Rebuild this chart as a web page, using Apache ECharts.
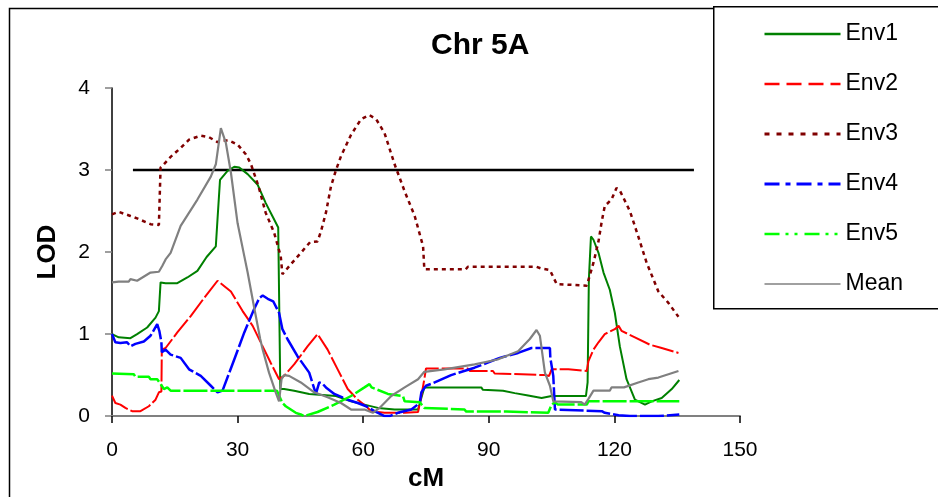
<!DOCTYPE html>
<html>
<head>
<meta charset="utf-8">
<script src="https://cdn.jsdelivr.net/npm/echarts@6/dist/echarts.min.js"></script>
<style>
html,body{margin:0;padding:0;background:#fff;}
#chart{width:938px;height:497px;}
</style>
</head>
<body>
<div id="chart"></div>
<script>
var chartTitle = 'Chr 5A';
var xName = 'cM';
var yName = 'LOD';
var seriesNames = ['Env1', 'Env2', 'Env3', 'Env4', 'Env5', 'Mean'];
var xTicks = [0, 30, 60, 90, 120, 150];
var yTicks = [0, 1, 2, 3, 4];
var thresholdLine = [[5, 3], [139, 3]];

var env1 = [[0,1.00],[1.6,0.96],[4.4,0.95],[6,1.0],[8.4,1.08],[10.4,1.20],[11.2,1.28],[11.6,1.63],[12.8,1.62],[15.6,1.62],[18,1.69],[20.4,1.77],[22.6,1.94],[24.8,2.07],[25.2,2.40],[25.8,2.88],[27.6,2.99],[29.2,3.04],[30.4,3.03],[32.4,2.95],[34.8,2.82],[36.7,2.60],[38.3,2.44],[39.7,2.30],[40.2,0.33],[41.1,0.33],[43.5,0.31],[47.1,0.27],[53.5,0.245],[57.1,0.18],[60.3,0.14],[63.5,0.10],[67.5,0.08],[73.1,0.08],[74.6,0.35],[88.2,0.35],[88.6,0.32],[93.4,0.31],[93.8,0.29],[96.2,0.28],[99.4,0.25],[102.6,0.22],[105,0.245],[113.2,0.245],[113.6,0.41],[113.9,1.67],[114.4,2.19],[115,2.15],[116.2,1.99],[117.4,1.75],[118.9,1.54],[120.1,1.26],[121.3,0.85],[122.9,0.45],[124.9,0.20],[127.3,0.14],[128.9,0.18],[131.3,0.22],[133.7,0.33],[135.5,0.44]];

var env2 = [[0,0.25],[0.8,0.16],[2,0.14],[3.2,0.10],[4.8,0.06],[6.8,0.06],[8.8,0.12],[10.4,0.20],[11.2,0.29],[11.8,0.30],[11.9,0.81],[12.8,0.83],[15.6,1.02],[18.8,1.22],[22,1.44],[25.2,1.65],[25.5,1.67],[28.4,1.52],[31.2,1.28],[33.6,1.10],[35.6,0.89],[37.9,0.65],[39.9,0.45],[41.1,0.49],[43.5,0.63],[46.7,0.85],[49.1,1.0],[51.5,0.81],[53.9,0.57],[56.3,0.33],[58.7,0.20],[60.7,0.12],[61.9,0.06],[65.1,0.04],[69.9,0.04],[73.1,0.05],[73.9,0.25],[74.6,0.45],[75,0.58],[85,0.58],[85.5,0.55],[91,0.55],[91.4,0.52],[103.4,0.50],[104.4,0.49],[105,0.57],[109,0.57],[109.3,0.55],[113.4,0.55],[113.8,0.67],[115,0.81],[116.2,0.90],[117.7,1.0],[120.1,1.06],[121,1.10],[121.7,1.04],[124.9,0.96],[128.5,0.87],[131.3,0.83],[135.3,0.77]];

var env3 = [[0,2.46],[1.6,2.49],[4.4,2.44],[6,2.41],[9.2,2.34],[11.2,2.33],[11.6,3.03],[12.4,3.07],[14,3.16],[16.4,3.27],[18.4,3.37],[21.2,3.42],[23.2,3.40],[25.2,3.34],[26.4,3.36],[28,3.36],[30,3.31],[32,3.19],[33.2,3.07],[35,2.80],[36.7,2.48],[38.7,2.24],[40.3,1.95],[40.7,1.73],[42.7,1.85],[45.1,1.99],[47.3,2.12],[49.1,2.13],[49.9,2.25],[51.1,2.48],[52.3,2.80],[53.5,3.0],[54.7,3.17],[57.1,3.43],[59.5,3.62],[61.5,3.67],[63.1,3.62],[65.1,3.45],[67.5,3.07],[69.9,2.74],[72.3,2.44],[74.3,2.07],[74.6,1.79],[84.5,1.79],[85,1.82],[101.4,1.82],[102.5,1.80],[104.6,1.78],[106.2,1.61],[106.5,1.59],[113.4,1.59],[114.1,1.71],[115,1.87],[116.2,2.13],[117,2.38],[117.7,2.56],[119.3,2.64],[120.5,2.78],[121.3,2.75],[123.7,2.50],[125.7,2.19],[127.7,1.87],[130.5,1.52],[132.9,1.38],[135.3,1.21]];

var env4 = [[0,1.0],[0.8,0.90],[2,0.89],[3.6,0.90],[4.4,0.85],[5.6,0.88],[7.6,0.91],[9.2,0.98],[10.8,1.12],[11.3,1.04],[11.8,0.90],[11.9,0.78],[12.8,0.81],[14,0.75],[16.4,0.71],[18.4,0.57],[21.2,0.49],[23.6,0.37],[25.2,0.29],[26.4,0.31],[29.2,0.69],[31.6,1.02],[33.9,1.30],[35.2,1.44],[36,1.47],[37.2,1.43],[38.5,1.40],[39.9,1.26],[40.7,1.06],[41.9,0.94],[44.3,0.73],[47.1,0.53],[48.7,0.27],[49.5,0.41],[50.2,0.40],[51.1,0.35],[53.1,0.27],[56.3,0.20],[58.7,0.16],[60.7,0.12],[62.7,0.06],[65.1,0.0],[66.3,0.0],[68.3,0.04],[71.5,0.08],[73.5,0.16],[73.9,0.29],[75,0.37],[76.6,0.40],[81,0.50],[86.6,0.59],[92.6,0.71],[97,0.77],[100.2,0.83],[104.6,0.83],[104.7,0.71],[105.4,0.49],[105.8,0.08],[106.2,0.06],[117,0.06],[117.7,0.04],[121,0.01],[123.7,0.0],[130.5,0.0],[130.9,0.02],[135.5,0.02]];

var env5 = [[0,0.52],[5.2,0.51],[5.6,0.48],[8.8,0.48],[9.2,0.45],[10.8,0.45],[11.6,0.39],[12.4,0.33],[13.2,0.35],[14,0.31],[39.4,0.31],[40.7,0.16],[41.5,0.12],[43.9,0.04],[45.1,0.02],[45.9,0.0],[49.1,0.05],[53.1,0.14],[57.1,0.245],[60.3,0.35],[61.5,0.39],[62,0.35],[65.9,0.27],[69.5,0.245],[69.9,0.18],[73.5,0.17],[74.6,0.10],[84.2,0.08],[84.6,0.055],[94.2,0.055],[94.6,0.04],[104.2,0.04],[105,0.14],[105.8,0.17],[106.5,0.14],[113.4,0.14],[113.8,0.18],[135.5,0.18]];

var mean = [[0,1.63],[1.6,1.64],[4,1.64],[4.4,1.67],[6,1.65],[9.2,1.75],[11.2,1.76],[12,1.83],[12.8,1.91],[14,1.99],[16.4,2.32],[20.4,2.64],[23.6,2.92],[24.8,3.07],[26,3.51],[27.2,3.33],[28.4,2.97],[30,2.35],[31.6,1.95],[32.4,1.75],[33.9,1.34],[35.4,0.94],[36,0.81],[37.5,0.53],[39.1,0.29],[39.9,0.18],[40.5,0.45],[41.1,0.50],[42.3,0.49],[45.1,0.41],[48.3,0.29],[51.5,0.23],[54.7,0.16],[57.1,0.08],[60.3,0.08],[62.3,0.04],[63.9,0.10],[66.7,0.245],[69.9,0.35],[73.1,0.45],[74.6,0.54],[79.4,0.57],[86.6,0.63],[92.1,0.69],[97,0.79],[99.8,0.94],[101.4,1.05],[102.2,0.98],[103.4,0.53],[104.6,0.37],[105.4,0.18],[112.1,0.17],[112.9,0.14],[113.8,0.21],[115,0.31],[118.9,0.31],[119.3,0.35],[122.3,0.35],[125.7,0.41],[128.1,0.45],[130.5,0.47],[132.9,0.51],[135.3,0.55]];

var seriesData = [env1, env2, env3, env4, env5, mean];
var colors = ['#008000', '#FF0000', '#800000', '#0000FF', '#00FF00', '#808080'];
var plotStyles = [
  {width: 2, type: 'solid'},
  {width: 2, type: [22, 3]},
  {width: 2.5, type: [4, 4]},
  {width: 2.5, type: [24, 3]},
  {width: 2.5, type: [24, 3]},
  {width: 2.2, type: 'solid'}
];
var legendStyles = [
  {width: 2.5, type: 'solid'},
  {width: 2.5, type: [15, 7]},
  {width: 3, type: [5, 7]},
  {width: 3, type: [15, 6, 5, 6]},
  {width: 2.5, type: [15, 6, 3, 6, 3, 7]},
  {width: 1.5, type: 'solid'}
];

var series = [{
  name: 'threshold', type: 'line', data: thresholdLine, symbol: 'none',
  lineStyle: {color: '#000', width: 2.5}, silent: true, z: 1
}];
seriesNames.forEach(function (n, i) {
  series.push({
    name: n, type: 'line', data: seriesData[i], symbol: 'none', showSymbol: false,
    color: colors[i],
    lineStyle: {color: colors[i], width: plotStyles[i].width, type: plotStyles[i].type},
    z: 2 + i, animation: false
  });
});

var chart = echarts.init(document.getElementById('chart'), null, {renderer: 'canvas'});
chart.setOption({
  animation: false,
  backgroundColor: '#fff',
  grid: {left: 112, right: 198, top: 88, bottom: 80, containLabel: false},
  xAxis: {
    type: 'value', min: xTicks[0], max: xTicks[xTicks.length - 1], interval: 30,
    name: xName, nameLocation: 'middle', nameGap: 47,
    nameTextStyle: {fontFamily: 'Liberation Sans', fontWeight: 'bold', fontSize: 26, color: '#000'},
    axisLine: {lineStyle: {color: '#808080', width: 2}},
    axisTick: {show: true, inside: false, length: 7, lineStyle: {color: '#000', width: 1.5}},
    axisLabel: {margin: 24, fontFamily: 'Liberation Sans', fontSize: 21, color: '#000'},
    splitLine: {show: false}
  },
  yAxis: {
    type: 'value', min: yTicks[0], max: yTicks[yTicks.length - 1], interval: 1,
    name: yName, nameLocation: 'middle', nameGap: 51, nameRotate: 90,
    nameTextStyle: {fontFamily: 'Liberation Sans', fontWeight: 'bold', fontSize: 26, color: '#000'},
    axisLine: {show: true, lineStyle: {color: '#000', width: 1.5}},
    axisTick: {show: true, inside: false, length: 7, lineStyle: {color: '#808080', width: 1.5}},
    axisLabel: {margin: 22, fontFamily: 'Liberation Sans', fontSize: 21, color: '#000'},
    splitLine: {show: false}
  },
  legend: {
    orient: 'vertical', left: 758, top: 17,
    itemWidth: 76, itemHeight: 24, itemGap: 26,
    textStyle: {fontFamily: 'Liberation Sans', fontSize: 23, color: '#000', lineHeight: 24},
    data: seriesNames.map(function (n, i) {
      return {
        name: n,
        itemStyle: {opacity: 0, borderWidth: 0},
        lineStyle: {color: colors[i], width: legendStyles[i].width, type: legendStyles[i].type, opacity: 1}
      };
    }),
    selectedMode: false
  },
  graphic: [
    {type: 'rect', left: 7, top: 6, shape: {width: 1000, height: 600}, style: {fill: 'none', stroke: '#000', lineWidth: 1.5}, silent: true, z: -10},
    {type: 'rect', left: 713, top: 6, shape: {width: 300, height: 302}, style: {fill: '#fff', stroke: '#000', lineWidth: 1.5}, silent: true, z: -5},
    {type: 'text', left: 431, top: 31, style: {text: chartTitle, font: 'bold 30px "Liberation Sans"', fill: '#000'}}
  ],
  series: series
});
</script>
</body>
</html>
